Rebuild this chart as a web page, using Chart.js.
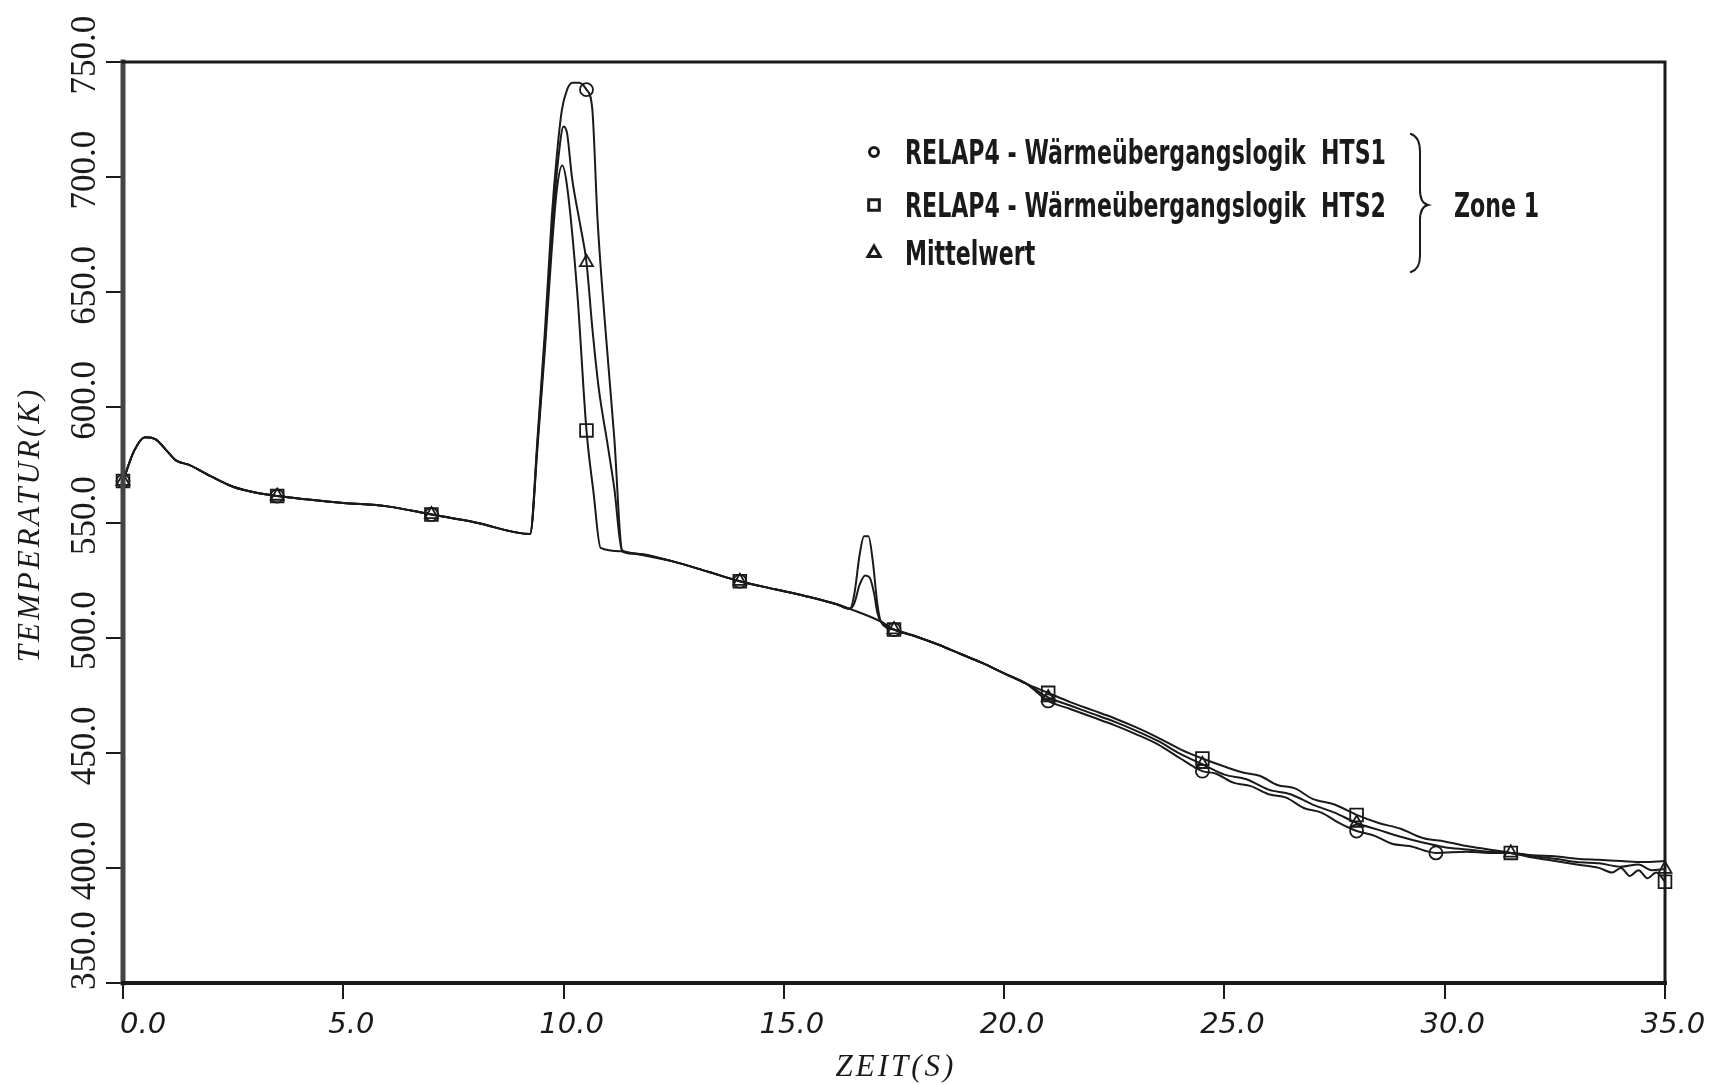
<!DOCTYPE html>
<html lang="de">
<head>
<meta charset="utf-8">
<title>Temperatur Zone 1</title>
<script src="https://cdn.jsdelivr.net/npm/chart.js@4.4.1/dist/chart.umd.min.js"></script>
<style>
  html, body { margin: 0; padding: 0; background: #ffffff; }
  canvas { display: block; }
</style>
</head>
<body>
<canvas id="tempChart" width="1719" height="1085"></canvas>
<script>
/* --------------- Axis Texts --------------------- */
const xTitle = "ZEIT(S)";
const yTitle = "TEMPERATUR(K)";
const zoneText = "Zone 1";
const seriesLabels = [
  "RELAP4 - Wärmeübergangslogik  HTS1",
  "RELAP4 - Wärmeübergangslogik  HTS2",
  "Mittelwert",
];

/* --------------- Common Start (0 - 9.2 s) --------------------- */
const startTime = [0, 0.25, 0.5, 0.75, 1.0, 1.2, 1.5, 2.0, 2.5, 3.0, 3.5, 4.2, 5.0, 6.0, 7.0, 8.0, 9.24];
const startTemp = [568, 581, 587, 586, 581, 577, 575, 570, 565.5, 563, 561.5, 560, 558.5, 557, 553.5, 550, 545];

/* --------------- First Peak --------------------- */
const hts1PeakTime = [9.41, 9.58, 9.73, 9.85, 9.96, 10.08, 10.2, 10.35, 10.52, 10.65, 10.77, 10.95, 11.15, 11.33];
const hts1PeakTemp = [587, 634, 682, 710, 729, 738, 741, 741, 738, 730, 682, 634, 587, 538];
const hts2PeakTime = [9.41, 9.58, 9.73, 9.85, 9.97, 10.08, 10.31, 10.52, 10.68, 10.84, 11.33];
const hts2PeakTemp = [583, 626, 668, 695, 705, 696, 650, 590, 563, 539, 537.5];
const meanPeakTime = [9.41, 9.58, 9.73, 9.88, 10.0, 10.08, 10.19, 10.38, 10.52, 10.65, 10.8, 10.99, 11.15, 11.33];
const meanPeakTemp = [585, 630, 675, 708, 722, 719, 700, 679, 663, 635, 608, 585, 565, 537.5];

/* --------------- Common Middle (11.3 - 16.5 s) --------------------- */
const midTime = [11.6, 12.5, 13.3, 14, 14.8, 15.5, 16.2, 16.5];
const midTemp = [536.5, 533, 528.5, 524.5, 521, 518, 514.5, 512.5];

/* --------------- Second Peak --------------------- */
const hts1BumpTime = [16.6, 16.72, 16.82, 16.92, 17.02, 17.12];
const hts1BumpTemp = [519, 536, 544, 544, 533, 515];
const meanBumpTime = [16.6, 16.72, 16.85, 16.95, 17.05, 17.12];
const meanBumpTemp = [515, 523, 527, 526, 519, 511];

/* --------------- Common Late (17.2 - 20.5 s) --------------------- */
const lateTime = [17.2, 17.5, 18, 18.5, 19, 19.5, 20, 20.5];
const lateTemp = [507, 503.5, 500.5, 497, 493, 489, 484.5, 480];

/* --------------- Tails (21 - 35 s) --------------------- */
const hts1TailTime = [21, 21.5, 22, 22.5, 23, 23.5, 24, 24.5, 24.8, 25.2, 25.6, 26, 26.4, 26.8, 27.2, 27.6, 28, 28.4, 28.8, 29.2, 29.8, 30.5, 31, 31.5, 32, 32.5, 33, 33.5, 34, 34.5, 35];
const hts1TailTemp = [472.5, 469, 465.5, 462, 458, 453.5, 447.5, 442, 441, 437, 435.5, 432, 430.5, 426, 424, 419.5, 416, 414, 410.5, 409.5, 406.5, 407, 406.5, 406.5, 405.5, 405, 404, 403.5, 403, 402.5, 403];
const hts2TailTime = [21, 21.5, 22, 22.5, 23, 23.5, 24, 24.5, 25, 25.4, 25.8, 26.2, 26.6, 27, 27.5, 28, 28.5, 29, 29.5, 30, 30.5, 31, 31.5, 32, 32.5, 33, 33.5, 33.8, 34, 34.2, 34.4, 34.6, 34.8, 35];
const hts2TailTemp = [476, 472, 468.5, 465, 461, 456.5, 451.5, 447.5, 444, 441.5, 440, 436, 434.5, 430, 427.5, 423, 419.5, 417, 413, 411.5, 409.5, 408, 406.5, 404.5, 403, 401.5, 400, 398, 400, 396.5, 399, 395.5, 398, 394];
const meanTailTime = [21, 21.5, 22, 22.5, 23, 23.5, 24, 24.5, 25, 25.5, 26, 26.5, 27, 27.5, 28, 28.5, 29, 29.5, 30, 30.5, 31, 31.5, 32, 32.5, 33, 33.5, 34, 34.4, 34.7, 35];
const meanTailTemp = [474, 470.5, 467, 463.5, 459.5, 455, 449.5, 445, 440.5, 438.5, 434, 432, 427.5, 424, 419.5, 416.5, 413.5, 411, 409, 408, 407, 406.5, 405, 404, 402.5, 402, 400.5, 401.5, 399, 399.5];

/* --------------- Marker Times --------------------- */
const hts1Marks = [0, 3.5, 7, 10.52, 14, 17.5, 21, 24.5, 28, 29.8];
const hts2Marks = [0, 3.5, 7, 10.52, 14, 17.5, 21, 24.5, 28, 31.5, 35];
const meanMarks = [0, 3.5, 7, 10.52, 14, 17.5, 21, 24.5, 28, 31.5, 35];

/* --------------- Helpers --------------------- */
const toPoints = (times, temps) => times.map((t, i) => ({ x: t, y: temps[i] }));
const markerRadius = (marks, r) => (ctx) => (ctx.raw && marks.includes(ctx.raw.x) ? r : 0);

const hts1Data = toPoints(
  [...startTime, ...hts1PeakTime, ...midTime, ...hts1BumpTime, ...lateTime, ...hts1TailTime],
  [...startTemp, ...hts1PeakTemp, ...midTemp, ...hts1BumpTemp, ...lateTemp, ...hts1TailTemp]
);
const hts2Data = toPoints(
  [...startTime, ...hts2PeakTime, ...midTime, ...lateTime, ...hts2TailTime],
  [...startTemp, ...hts2PeakTemp, ...midTemp, ...lateTemp, ...hts2TailTemp]
);
const meanData = toPoints(
  [...startTime, ...meanPeakTime, ...midTime, ...meanBumpTime, ...lateTime, ...meanTailTime],
  [...startTemp, ...meanPeakTemp, ...midTemp, ...meanBumpTemp, ...lateTemp, ...meanTailTemp]
);

const ink = "#1a1a1a";

const lineStyle = {
  borderColor: ink,
  borderWidth: 2,
  tension: 0.4,
  cubicInterpolationMode: "monotone",
  pointBorderColor: ink,
  pointBackgroundColor: "rgba(0,0,0,0)",
  pointBorderWidth: 1.8,
  pointHoverRadius: 0,
  clip: false,
};

/* --------------- Frame, Labels, Legend --------------------- */
const plotterPlugin = {
  id: "plotter",
  afterDraw(chart) {
    const { ctx, chartArea: a, scales } = chart;
    const x = scales.x;
    const y = scales.y;
    ctx.save();

    // frame
    ctx.lineCap = "square";
    ctx.strokeStyle = "#444";
    ctx.lineWidth = 5;
    ctx.beginPath(); ctx.moveTo(a.left, a.top); ctx.lineTo(a.left, a.bottom); ctx.stroke();
    ctx.strokeStyle = ink;
    ctx.lineWidth = 4;
    ctx.beginPath(); ctx.moveTo(a.left, a.bottom); ctx.lineTo(a.right, a.bottom); ctx.stroke();
    ctx.lineWidth = 3;
    ctx.beginPath(); ctx.moveTo(a.left, a.top); ctx.lineTo(a.right, a.top); ctx.lineTo(a.right, a.bottom); ctx.stroke();

    ctx.fillStyle = ink;

    // y tick labels (rotated)
    ctx.font = '35px "Liberation Serif"';
    ctx.textBaseline = "alphabetic";
    y.ticks.forEach((t, i) => {
      const py = y.getPixelForValue(t.value);
      ctx.save();
      ctx.translate(a.left - 28, i === 0 ? py + 7 : py - 7);
      ctx.rotate(-Math.PI / 2);
      ctx.textAlign = i === 0 ? "left" : "center";
      ctx.fillText(t.value.toFixed(1), 0, 0);
      ctx.restore();
    });

    // x tick labels
    ctx.font = 'italic 29px "DejaVu Sans"';
    x.ticks.forEach((t, i) => {
      const px = x.getPixelForValue(t.value);
      ctx.textAlign = i === 0 ? "left" : "center";
      ctx.fillText(t.value.toFixed(1), i === 0 ? px - 3 : px + 8, a.bottom + 50);
    });

    // axis titles
    ctx.font = 'italic 31px "Liberation Serif"';
    ctx.letterSpacing = "3px";
    ctx.textAlign = "center";
    ctx.fillText(xTitle, (a.left + a.right) / 2 + 2, a.bottom + 93);
    ctx.save();
    ctx.translate(39, (a.top + a.bottom) / 2 + 2);
    ctx.rotate(-Math.PI / 2);
    ctx.fillText(yTitle, 0, 0);
    ctx.restore();
    ctx.letterSpacing = "0px";

    // legend
    const rows = [152, 205, 253];
    const radii = [4.5, 7.5, 7];
    ctx.font = 'bold 34px "Liberation Sans Narrow", "DejaVu Sans Condensed", "Liberation Sans", sans-serif';
    ctx.textAlign = "left";
    const sx = 481 / ctx.measureText(chart.data.datasets[0].label).width;
    chart.data.datasets.forEach((ds, i) => {
      ctx.strokeStyle = ink;
      ctx.fillStyle = "rgba(0,0,0,0)";
      Chart.helpers.drawPoint(ctx, { pointStyle: ds.pointStyle, radius: radii[i], borderWidth: 2.4, rotation: 0 }, 874, rows[i]);
      ctx.fillStyle = ink;
      ctx.save();
      ctx.translate(905, rows[i] + 12);
      ctx.scale(sx, 1);
      ctx.fillText(ds.label, 0, 0);
      ctx.restore();
    });

    // brace + zone
    ctx.strokeStyle = ink;
    ctx.lineWidth = 2;
    ctx.beginPath();
    ctx.moveTo(1411, 134);
    ctx.quadraticCurveTo(1420, 137, 1420, 152);
    ctx.lineTo(1420, 190);
    ctx.quadraticCurveTo(1420, 203, 1428, 205);
    ctx.quadraticCurveTo(1420, 207, 1420, 220);
    ctx.lineTo(1420, 256);
    ctx.quadraticCurveTo(1420, 269, 1411, 272);
    ctx.stroke();
    ctx.save();
    ctx.translate(1454, 205 + 12);
    ctx.scale(sx, 1);
    ctx.fillText(zoneText, 0, 0);
    ctx.restore();

    ctx.restore();
  },
};

/* --------------- Chart --------------------- */
const tempChart = new Chart(document.getElementById("tempChart"), {
  type: "line",
  plugins: [plotterPlugin],
  data: {
    datasets: [
      { ...lineStyle, label: seriesLabels[0], data: hts1Data, pointStyle: "circle", pointRadius: markerRadius(hts1Marks, 6.5) },
      { ...lineStyle, label: seriesLabels[1], data: hts2Data, pointStyle: "rect", pointRadius: markerRadius(hts2Marks, 9) },
      { ...lineStyle, label: seriesLabels[2], data: meanData, pointStyle: "triangle", pointRadius: markerRadius(meanMarks, 7.5) },
    ],
  },
  options: {
    responsive: false,
    animation: false,
    devicePixelRatio: 1,
    events: [],
    layout: { padding: { top: 62, right: 54, left: 0, bottom: 0 } },
    plugins: {
      legend: { display: false },
      tooltip: { enabled: false },
    },
    scales: {
      x: {
        type: "linear",
        min: 0,
        max: 35,
        ticks: { stepSize: 5, display: false },
        grid: { drawOnChartArea: false, drawTicks: true, tickLength: 16, color: ink, lineWidth: 2 },
        border: { display: false },
        afterFit: (scale) => { scale.height = 102; },
      },
      y: {
        type: "linear",
        min: 350,
        max: 750,
        ticks: { stepSize: 50, display: false },
        grid: { drawOnChartArea: false, drawTicks: true, tickLength: 17, color: ink, lineWidth: 2 },
        border: { display: false },
        afterFit: (scale) => { scale.width = 123; },
      },
    },
  },
});
</script>
</body>
</html>
